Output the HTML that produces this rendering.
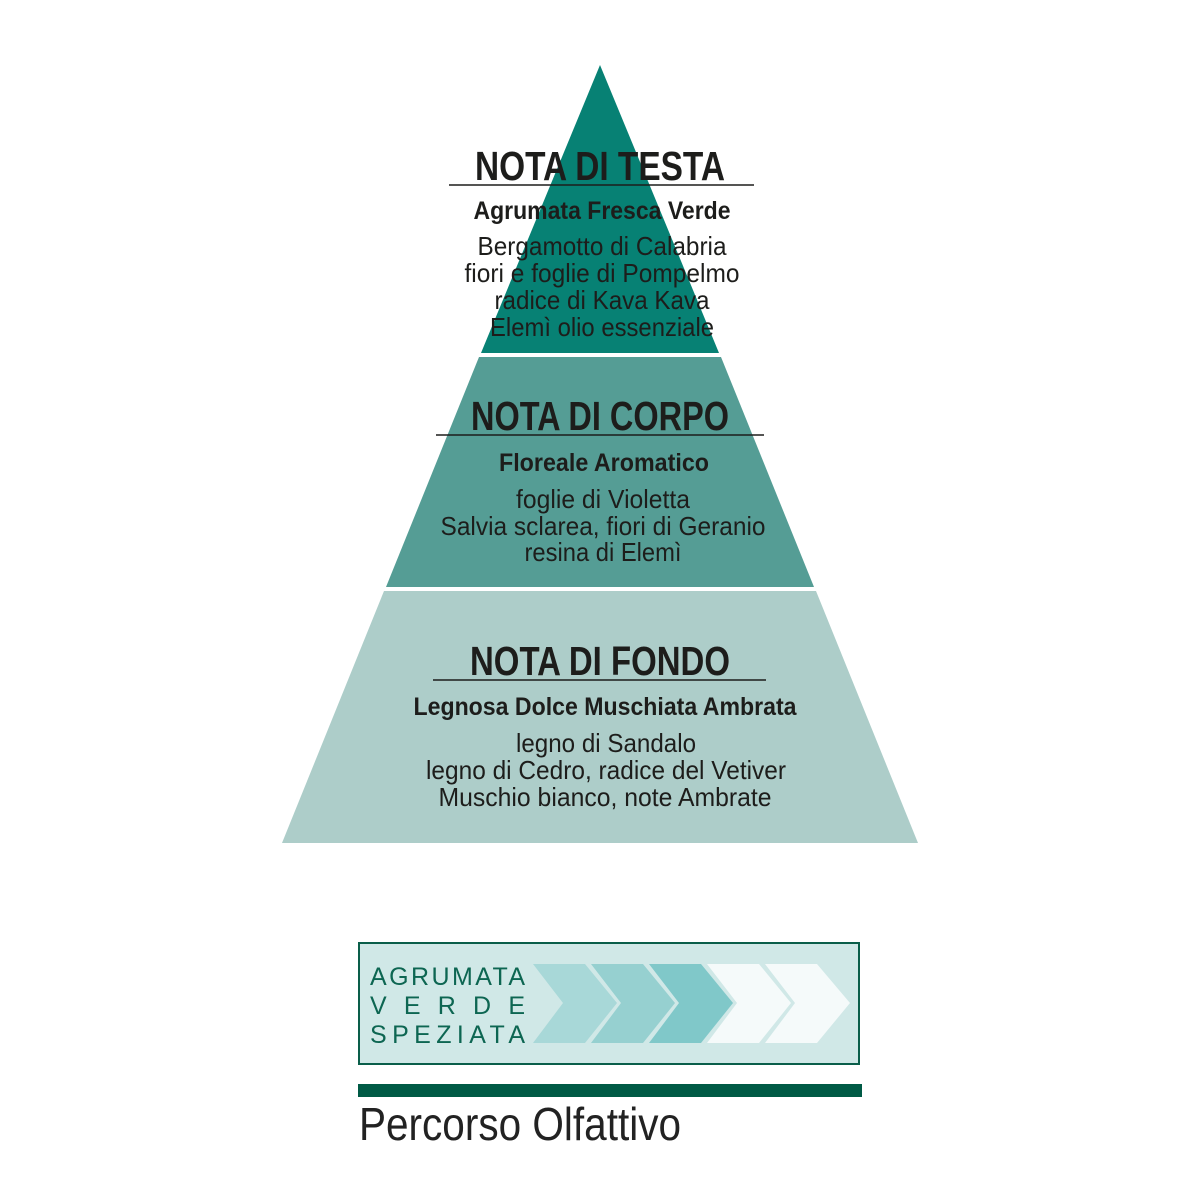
<!DOCTYPE html>
<html><head><meta charset="utf-8"><style>html,body{margin:0;padding:0;background:#fff}svg{display:block}</style></head>
<body>
<svg width="1200" height="1200" viewBox="0 0 1200 1200" xmlns="http://www.w3.org/2000/svg">
<rect width="1200" height="1200" fill="#fff"/>
<polygon points="600,65 719,353 481,353" fill="#078174"/>
<polygon points="479,357 721,357 814,587 386,587" fill="#559d95"/>
<polygon points="384,591 816,591 918,843 282,843" fill="#adcdc9"/>
<g font-family="'Liberation Sans Narrow','Liberation Sans',sans-serif" fill="#1d1d1b" text-anchor="middle">
<g font-weight="bold" font-size="41">
<text x="600" y="180" textLength="250" lengthAdjust="spacingAndGlyphs">NOTA DI TESTA</text>
<text x="600" y="430" textLength="258" lengthAdjust="spacingAndGlyphs">NOTA DI CORPO</text>
<text x="600" y="675" textLength="260" lengthAdjust="spacingAndGlyphs">NOTA DI FONDO</text>
</g>
<g font-weight="bold" font-size="25">
<text x="602" y="219" textLength="257" lengthAdjust="spacingAndGlyphs">Agrumata Fresca Verde</text>
<text x="604" y="471" textLength="210" lengthAdjust="spacingAndGlyphs">Floreale Aromatico</text>
<text x="605" y="715" textLength="383" lengthAdjust="spacingAndGlyphs">Legnosa Dolce Muschiata Ambrata</text>
</g>
<g font-size="26">
<text x="602" y="255" textLength="249" lengthAdjust="spacingAndGlyphs">Bergamotto di Calabria</text>
<text x="602" y="282" textLength="275" lengthAdjust="spacingAndGlyphs">fiori e foglie di Pompelmo</text>
<text x="602" y="309" textLength="215" lengthAdjust="spacingAndGlyphs">radice di Kava Kava</text>
<text x="602" y="336" textLength="224" lengthAdjust="spacingAndGlyphs">Elemì olio essenziale</text>
<text x="603" y="508" textLength="174" lengthAdjust="spacingAndGlyphs">foglie di Violetta</text>
<text x="603" y="535" textLength="325" lengthAdjust="spacingAndGlyphs">Salvia sclarea, fiori di Geranio</text>
<text x="603" y="561" textLength="157" lengthAdjust="spacingAndGlyphs">resina di Elemì</text>
<text x="606" y="752" textLength="180" lengthAdjust="spacingAndGlyphs">legno di Sandalo</text>
<text x="606" y="779" textLength="360" lengthAdjust="spacingAndGlyphs">legno di Cedro, radice del Vetiver</text>
<text x="605" y="806" textLength="333" lengthAdjust="spacingAndGlyphs">Muschio bianco, note Ambrate</text>
</g>
</g>
<g stroke="#1d1d1b" stroke-width="1.5">
<line x1="449" y1="185" x2="754" y2="185"/>
<line x1="436" y1="435" x2="764" y2="435"/>
<line x1="433" y1="680" x2="766" y2="680"/>
</g>
<rect x="359" y="943" width="500" height="121" fill="#d0e8e7" stroke="#0a5e4a" stroke-width="2"/>
<g font-family="'Liberation Sans',sans-serif" font-size="25" fill="#0d6652">
<text x="370" y="985" textLength="155" lengthAdjust="spacing">AGRUMATA</text>
<text x="370" y="1014" textLength="155" lengthAdjust="spacing">VERDE</text>
<text x="370" y="1043" textLength="155" lengthAdjust="spacing">SPEZIATA</text>
</g>
<g>
<polygon points="533,964 585,964 617,1003 585,1043 533,1043 563,1003" fill="#a8d8d8"/>
<polygon points="591,964 643,964 675,1003 643,1043 591,1043 621,1003" fill="#96d0d0"/>
<polygon points="649,964 701,964 733,1003 701,1043 649,1043 679,1003" fill="#80c8c9"/>
<polygon points="707,964 759,964 791,1003 759,1043 707,1043 737,1003" fill="#f5fafa"/>
<polygon points="765,964 817,964 850,1003 817,1043 765,1043 795,1003" fill="#f5fafa"/>
</g>
<rect x="358" y="1084" width="504" height="13" fill="#005a45"/>
<text x="359" y="1140" font-family="'Liberation Sans Narrow','Liberation Sans',sans-serif" font-size="46" fill="#222" textLength="322" lengthAdjust="spacingAndGlyphs">Percorso Olfattivo</text>
</svg>
</body></html>
